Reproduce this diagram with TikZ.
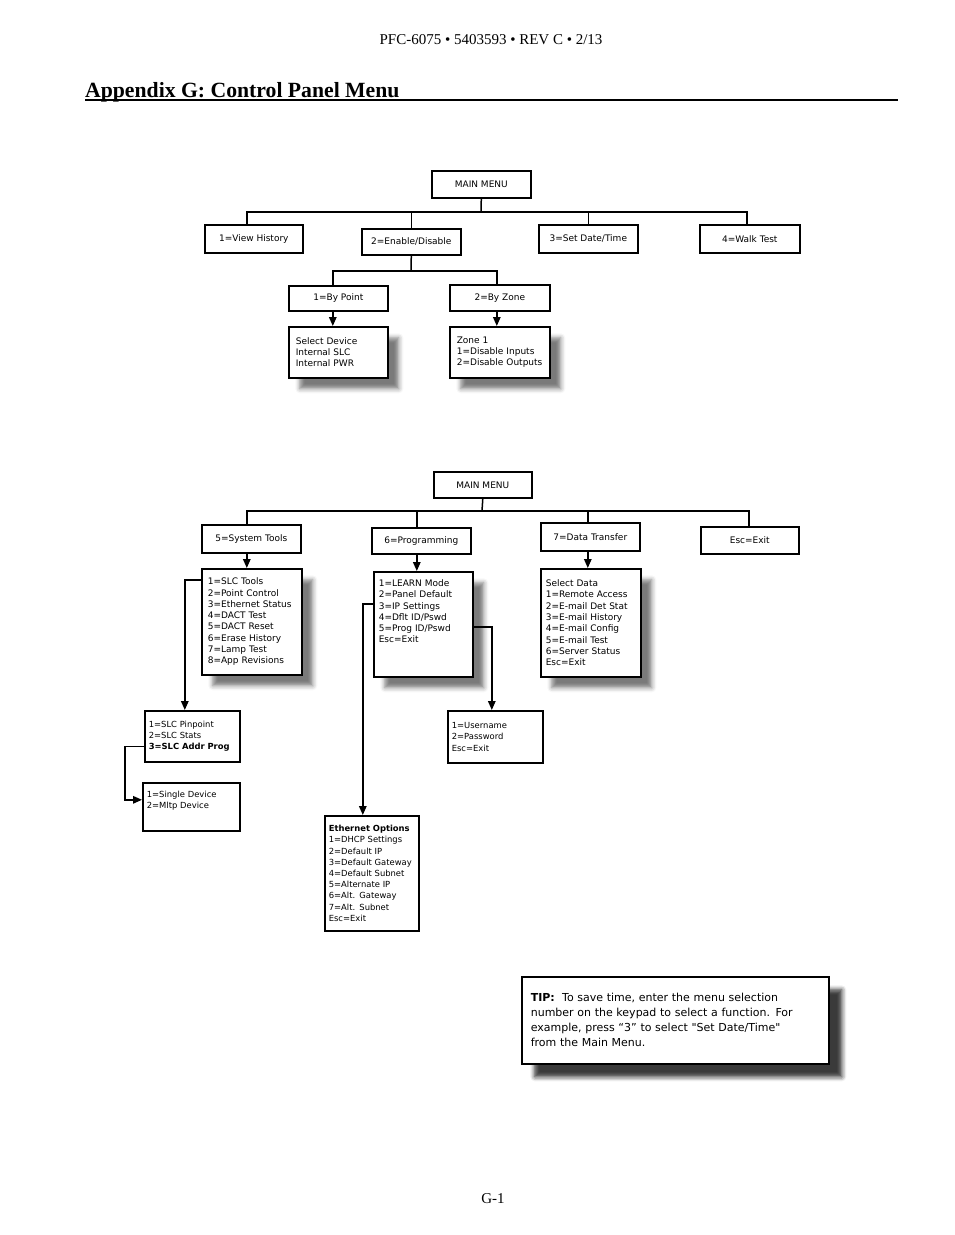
\documentclass[tikz,border=0pt]{standalone}
\usepackage{fontspec}
\setmainfont{Liberation Serif}
\newfontfamily\menufont{DejaVu Sans}
\usetikzlibrary{arrows.meta,shadows.blur}

\begin{document}
\begin{tikzpicture}
[x=1pt,y=-1pt,
 box/.style={draw,line width=1.6pt,fill=white,anchor=north west,inner sep=0pt,font=\menufont\fontsize{9}{11.3}\selectfont},
 list/.style={box,align=left,inner xsep=6pt,blur shadow={shadow xshift=11pt,shadow yshift=-11pt,shadow blur radius=4.5pt,shadow opacity=52}},
 flat/.style={box,align=left,inner xsep=4pt,font=\menufont\fontsize{8.4}{11.2}\selectfont},
 link/.style={line width=1.5pt},
 arr/.style={link,-{Triangle[length=9pt,width=7.5pt]}}]
\useasboundingbox (0,0) rectangle (954,1235);

\node (hdr) at (491,40) {\fontsize{15}{16}\selectfont PFC-6075 • 5403593 • REV C • 2/13};
\node (title) [anchor=base west,inner sep=0pt] at (85,97) {\fontsize{21.7}{23}\selectfont\bfseries Appendix G: Control Panel Menu};
\draw[line width=1.8pt] (85,100) -- (898,100);
\node (pg) at (493,1199) {\fontsize{15}{16}\selectfont G-1};

% first menu
\node (main1) [box,minimum width=99pt,minimum height=27pt] at (431,170) {MAIN MENU};
\node (hist) [box,minimum width=98pt,minimum height=28pt] at (204,224) {1=View History};
\node (enable) [box,minimum width=99pt,minimum height=26pt] at (361,228) {2=Enable/Disable};
\node (date) [box,minimum width=99pt,minimum height=28pt] at (538,224) {3=Set Date/Time};
\node (walk) [box,minimum width=100pt,minimum height=28pt] at (699,224) {4=Walk Test};
\node (point) [box,minimum width=99pt,minimum height=25pt] at (288,285) {1=By Point};
\node (zone) [box,minimum width=100pt,minimum height=26pt] at (449,284) {2=By Zone};
\node (device) [list,inner xsep=7pt,text width=85pt,minimum height=51pt] at (288,326) {Select Device\\Internal SLC\\Internal PWR};
\node (zone1) [list,inner xsep=7pt,text width=86pt,minimum height=51pt] at (449,326) {Zone 1\\1=Disable Inputs\\2=Disable Outputs};

\coordinate (bar1) at (481,212);
\coordinate (bar2) at (411,271);
\draw[link] (main1.south) -- (bar1);
\draw[link] ([xshift=-7pt]hist.north) |- (bar1) -| ([xshift=-3pt]walk.north);
\draw[link] (enable.north) |- (bar1);
\draw[link] (date.north) |- (bar1);
\draw[link] (enable.south) -- (bar2);
\draw[link] ([xshift=-5.5pt]point.north) |- (bar2) -| ([xshift=-3pt]zone.north);
\draw[arr] ([xshift=-5.5pt]point.south) -- ([xshift=-5.5pt]device.north);
\draw[arr] ([xshift=-3pt]zone.south) -- ([xshift=-3pt]zone1.north);

% second menu
\node (main2) [box,minimum width=98pt,minimum height=26pt] at (433,471) {MAIN MENU};
\node (tools) [box,minimum width=99pt,minimum height=28pt] at (201,524) {5=System Tools};
\node (prog) [box,minimum width=99pt,minimum height=26pt] at (371,527) {6=Programming};
\node (xfer) [box,minimum width=99pt,minimum height=28pt] at (540,522) {7=Data Transfer};
\node (esc) [box,minimum width=98pt,minimum height=27pt] at (700,526) {Esc=Exit};
\node (slct) [list,text width=88pt,minimum height=106pt] at (201,568) {1=SLC Tools\\2=Point Control\\3=Ethernet Status\\4=DACT Test\\5=DACT Reset\\6=Erase History\\7=Lamp Test\\8=App Revisions};
\node (learn) [list,inner xsep=5pt,text width=89pt,minimum height=105pt] at (373,571) {1=LEARN Mode\\2=Panel Default\\3=IP Settings\\4=Dflt ID/Pswd\\5=Prog ID/Pswd\\Esc=Exit\\\strut\\\strut};
\node (sel) [list,inner xsep=5pt,text width=90pt,minimum height=108pt] at (540,568) {Select Data\\1=Remote Access\\2=E-mail Det Stat\\3=E-mail History\\4=E-mail Config\\5=E-mail Test\\6=Server Status\\Esc=Exit};
\node (slcpin) [flat,text width=87pt,minimum height=51pt] at (144,710) {1=SLC Pinpoint\\2=SLC Stats\\\textbf{3=SLC Addr Prog}};
\node (single) [flat,text width=89pt,minimum height=48pt] at (142,782) {1=Single Device\\2=Mltp Device\\\strut};
\node (user) [flat,text width=87pt,minimum height=52pt] at (447,710) {1=Username\\2=Password\\Esc=Exit};
\node (eth) [flat,text width=86pt,minimum height=115pt] at (324,815) {\textbf{Ethernet Options}\\1=DHCP Settings\\2=Default IP\\3=Default Gateway\\4=Default Subnet\\5=Alternate IP\\6=Alt. Gateway\\7=Alt. Subnet\\Esc=Exit};

\coordinate (bar3) at (482,511);
\draw[link] (main2.south) -- (bar3);
\draw[link] ([xshift=-4.5pt]tools.north) |- (bar3) -| ([xshift=-1pt]esc.north);
\draw[link] ([xshift=-4.5pt]prog.north) |- (bar3);
\draw[link] ([xshift=-2.5pt]xfer.north) |- (bar3);
\draw[arr] ([xshift=-4.5pt]tools.south) -- ([xshift=-5pt]slct.north);
\draw[arr] ([xshift=-4.5pt]prog.south) -- ([xshift=-6.5pt]learn.north);
\draw[arr] ([xshift=-2.5pt]xfer.south) -- ([xshift=-3pt]sel.north);
\draw[arr] (slct.north west) ++(0,12) -| ([xshift=-7.5pt]slcpin.north);
\draw[arr] (slcpin.south west) ++(0,-16) -- ++(-19,0) |- ([yshift=7pt]single.west);
\draw[arr] (learn.north west) ++(0,33) -| ([xshift=-9pt]eth.north);
\draw[arr] (learn.north east) ++(0,56) -| ([xshift=-3.5pt]user.north);

\node (tip) [list,inner xsep=9pt,text width=289pt,minimum height=87pt,font=\menufont\fontsize{11}{15}\selectfont,
  blur shadow={shadow xshift=13pt,shadow yshift=-13pt,shadow blur radius=4.5pt,shadow opacity=52}] at (521,976)
  {\textbf{TIP:}\ \ To save time, enter the menu selection\\number on the keypad to select a function. For\\example, press “3” to select "Set Date/Time"\\from the Main Menu.};
\end{tikzpicture}
\end{document}
